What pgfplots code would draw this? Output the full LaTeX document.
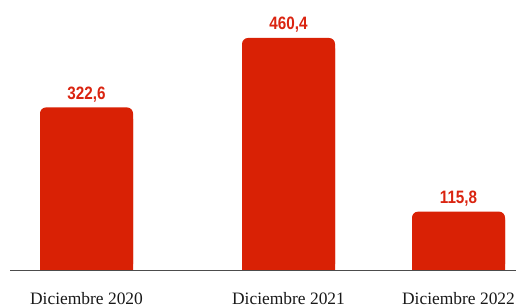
\documentclass[border=0pt]{standalone}
\usepackage{fontspec}
\setmainfont{Liberation Serif}
\newfontfamily\valfont[FakeStretch=0.85]{Liberation Sans}
\usepackage{pgfplots}
\pgfplotsset{compat=1.18}
\definecolor{barred}{HTML}{D92105}
\definecolor{lblred}{HTML}{DA2410}
\begin{document}
\begin{tikzpicture}[x=1bp,y=1bp]
\useasboundingbox (0,-37) rectangle (516,270);
\begin{axis}[at={(0,0)},anchor=south west,
  scale only axis, width=516bp, height=270bp,
  xmin=0, xmax=516, ymin=0, ymax=535.8,
  axis line style={draw=none}, major tick length=0pt,
  ytick=\empty,
  xtick={86.5,288.5,458.5},
  xticklabels={Diciembre 2020, Diciembre 2021, Diciembre 2022},
  xticklabel style={font=\fontsize{17.5}{19}\selectfont, text=black!90, yshift=-19bp},
  clip=false,
]
\addplot[ybar, bar width=93, bar shift=0pt, fill=barred, draw=none, rounded corners=6bp,
  point meta=y, nodes near coords,
  nodes near coords style={font=\valfont\bfseries\fontsize{18}{18}\selectfont, text=lblred, anchor=south, yshift=2bp,
    /pgf/number format/.cd, assume math mode=true, fixed, fixed zerofill, precision=1, use comma, 1000 sep={}}]
  coordinates {(86.5,322.6) (288.5,460.4) (458.5,115.8)};
\addplot[ybar, bar width=93, bar shift=0pt, fill=barred, draw=none]
  coordinates {(86.5,300) (288.5,440) (458.5,100)};
\draw[color=black!70, line width=1bp] (axis cs:10,0) -- (axis cs:516,0);
\end{axis}
\end{tikzpicture}
\end{document}
